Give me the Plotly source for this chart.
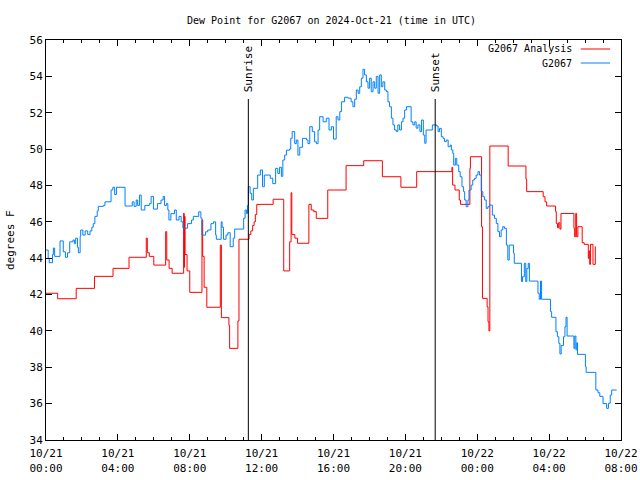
import plotly.graph_objects as go

# ---- data (hours since 2024-10-21 00:00 UTC, degrees F) ----
analysis_hours = [0.0, 0.65, 1.68, 2.70, 3.73, 4.62, 5.58, 5.64, 5.75, 6.0, 6.66, 6.72, 6.85, 7.02,
                  7.66, 7.69, 7.71, 7.74, 7.85, 8.0, 8.68, 8.72, 8.80, 8.95, 9.70, 9.76, 10.18, 10.22,
                  10.68, 10.74, 11.30, 11.40, 11.50, 11.58, 11.65, 11.73, 12.64, 13.23, 13.56, 13.64,
                  13.68, 13.85, 14.0, 14.63, 14.76, 14.90, 15.04, 15.68, 16.70, 17.68, 18.72, 19.75,
                  20.63, 22.59, 22.63, 22.76, 23.0, 23.07, 23.59, 23.62, 24.24, 24.29, 24.55, 24.60,
                  24.65, 24.70, 25.72, 26.71, 26.75, 27.67, 27.77, 27.86, 28.36, 28.40, 28.47, 28.53,
                  28.60, 28.66, 29.38, 29.42, 29.48, 29.53, 29.60, 29.84, 29.95, 30.18, 30.22, 30.26,
                  30.30, 30.44, 30.57, 30.60]
analysis_values = [42.07, 41.77, 42.34, 43.0, 43.44, 44.05, 45.1, 44.3, 44.1, 43.62, 45.46, 43.9, 43.44, 43.17,
                   46.47, 43.5, 46.3, 44.2, 43.3, 42.12, 46.1, 44.1, 42.4, 41.3, 44.72, 40.73, 40.3, 39.04,
                   40.55, 45.04, 45.3, 45.5, 45.8, 46.0, 46.4, 46.96, 47.24, 43.3, 44.9, 47.6,
                   45.3, 45.1, 44.82, 46.96, 46.65, 46.56, 46.19, 47.75, 49.09, 49.36, 48.48, 47.9,
                   48.76, 49.0, 48.02, 47.75, 47.2, 46.96, 48.94, 49.58, 45.73, 41.79, 41.33, 40.5,
                   40.0, 50.17, 49.07, 48.35, 47.66, 47.38, 47.1, 46.87, 46.56, 45.91, 45.67, 45.95,
                   45.6, 46.46, 45.64, 45.18, 46.46, 45.18, 45.73, 44.85, 44.76, 43.99, 44.4, 43.66,
                   44.76, 43.66, 44.63, 44.63]

obs_hours = [0.0, 0.12, 0.18, 0.36, 0.41, 0.48, 0.78, 0.96, 1.08, 1.20, 1.32, 1.50, 1.58, 1.65, 1.75,
             1.80, 1.90, 1.93, 2.05, 2.18, 2.32, 2.45, 2.55, 2.63, 2.72, 2.85, 2.91, 3.19, 3.28, 3.62,
             3.72, 3.82, 3.92, 4.40, 4.80, 4.90, 5.02, 5.10, 5.20, 5.30, 5.50, 5.75, 5.85, 5.98, 6.20,
             6.40, 6.52, 6.60, 6.70, 6.78, 6.84, 6.95, 7.15, 7.25, 7.40, 7.52, 7.62, 7.88, 8.10, 8.20,
             8.50, 8.62, 8.68, 8.88, 9.00, 9.18, 9.32, 9.44, 9.48, 9.75, 9.80, 9.88, 10.02, 10.12,
             10.25, 10.42, 10.50, 11.0, 11.08, 11.15, 11.21, 11.26, 11.36, 11.45, 11.54, 11.78, 11.93,
             12.05, 12.15, 12.48, 12.62, 12.78, 12.90, 13.00, 13.10, 13.18, 13.28, 13.38, 13.55, 13.62,
             13.70, 13.84, 13.93, 14.02, 14.12, 14.27, 14.50, 14.58, 14.68, 14.82, 14.95, 15.05, 15.14,
             15.23, 15.42, 15.60, 15.75, 15.88, 16.0, 16.15, 16.25, 16.35, 16.44, 16.62, 16.80, 16.98,
             17.08, 17.18, 17.27, 17.37, 17.46, 17.55, 17.64, 17.73, 17.83, 17.92, 18.01, 18.10, 18.20,
             18.29, 18.38, 18.48, 18.57, 18.66, 18.75, 18.85, 18.94, 19.03, 19.12, 19.22, 19.31, 19.40,
             19.50, 19.58, 19.68, 19.78, 19.87, 19.96, 20.06, 20.32, 20.42, 20.52, 20.60, 20.70, 20.81,
             20.90, 21.0, 21.08, 21.15, 21.50, 21.74, 21.82, 21.90, 22.0, 22.10, 22.18, 22.28, 22.38,
             22.50, 22.56, 22.64, 22.69, 22.78, 22.86, 22.97, 23.05, 23.15, 23.24, 23.30, 23.38, 23.48,
             23.54, 23.66, 23.75, 23.85, 23.94, 24.04, 24.13, 24.22, 24.31, 24.41, 24.50, 24.59, 24.68,
             24.84, 24.96, 25.06, 25.15, 25.24, 25.33, 25.42, 25.52, 25.62, 25.70, 25.78, 26.02, 26.06,
             26.46, 26.52, 26.62, 26.70, 26.76, 26.84, 26.90, 27.38, 27.45, 27.52, 27.58, 28.08, 28.14,
             28.38, 28.46, 28.54, 28.60, 28.67, 28.80, 28.88, 28.94, 29.0, 29.38, 29.43, 29.49, 29.54,
             29.58, 30.02, 30.06, 30.60, 30.72, 30.82, 31.0, 31.2, 31.30, 31.40, 31.48, 31.76]
obs_values = [44.45, 44.0, 43.75, 44.2, 44.56, 44.1, 44.95, 44.35, 44.05, 44.3, 44.9, 45.0, 44.8, 45.1, 44.6,
              44.3, 45.2, 45.55, 45.27, 45.5, 45.3, 45.5, 45.7, 45.9, 46.3, 46.6, 46.85, 46.9, 47.1, 47.75,
              47.9, 47.5, 47.9, 46.87, 47.1, 46.85, 47.2, 46.9, 47.47, 46.65, 46.9, 47.0, 47.4, 46.7, 47.0,
              47.2, 47.4, 46.9, 47.0, 46.65, 46.1, 46.45, 46.65, 46.1, 46.3, 46.0, 45.65, 45.9, 46.1, 46.3,
              46.55, 46.2, 45.27, 45.45, 45.55, 45.9, 46.0, 45.27, 45.04, 46.0, 45.7, 45.04, 45.27, 45.4,
              44.63, 45.1, 45.6, 46.2, 46.65, 46.45, 46.9, 47.93, 47.57, 47.2, 47.84, 48.57, 48.85,
              47.93, 48.57, 48.4, 48.1, 48.94, 48.66, 49.0, 48.5, 49.4, 49.67, 49.94, 50.0, 50.59,
              50.96, 50.3, 50.5, 49.67, 50.1, 50.59, 50.5, 50.3, 51.23, 50.96, 50.4, 50.3, 51.05,
              51.78, 51.5, 51.7, 51.05, 51.23, 50.55, 51.78, 51.6, 52.06, 52.6, 52.85, 52.8, 52.6,
              52.33, 52.74, 53.25, 53.07, 53.43, 53.9, 54.39, 54.08, 53.7, 53.35, 53.9, 53.16, 53.7,
              53.35, 54.0, 53.07, 54.08, 53.43, 53.7, 53.25, 53.16, 52.6, 52.33, 51.7, 51.33, 51.05,
              50.96, 51.33, 51.05, 51.5, 51.7, 52.15, 52.33, 51.5, 51.33, 51.5, 51.15, 51.33, 50.96,
              51.6, 50.77, 50.32, 51.05, 51.33, 51.27, 50.96, 51.14, 50.68, 50.59, 50.41, 50.5, 50.13,
              50.22, 49.95, 49.77, 49.12, 49.49, 49.12, 48.76, 48.48, 47.93, 47.66, 47.2, 46.83, 47.2,
              47.75, 48.02, 48.3, 48.39, 48.57, 48.76, 48.57, 47.66, 47.38, 47.2, 46.74, 46.83, 46.92,
              46.37, 46.19, 45.91, 45.46, 45.18, 45.55, 45.73, 45.64, 44.72, 43.9, 44.72, 44.27, 43.72,
              42.71, 42.98, 43.72, 42.71, 43.44, 43.72, 42.74, 42.07, 41.74, 42.74, 41.74, 41.06, 40.75,
              39.96, 39.68, 39.31, 38.73, 39.2, 39.68, 40.23, 40.75, 39.72, 39.04, 39.72, 38.96, 39.35,
              38.71, 38.03, 37.72, 36.75, 36.6, 36.4, 36.0, 35.74, 36.02, 36.47, 36.75, 36.75]

sunrise_hour = 11.26
sunset_hour = 21.66

tick_hours = [0, 4, 8, 12, 16, 20, 24, 28, 32]
tick_labels = ["10/21<br>00:00", "10/21<br>04:00", "10/21<br>08:00", "10/21<br>12:00",
               "10/21<br>16:00", "10/21<br>20:00", "10/22<br>00:00", "10/22<br>04:00",
               "10/22<br>08:00"]

RED = "#ff0000"
BLUE = "#0080ff"
FONT = "DejaVu Sans Mono"

fig = go.Figure()
fig.add_trace(go.Scatter(x=analysis_hours, y=analysis_values, mode="lines",
                         line=dict(color=RED, width=1, shape="hv"),
                         name="G2067 Analysis", showlegend=False))
fig.add_trace(go.Scatter(x=obs_hours, y=obs_values, mode="lines",
                         line=dict(color=BLUE, width=1, shape="hv"),
                         name="G2067", showlegend=False))

# sunrise / sunset markers
for h, label in [(sunrise_hour, "Sunrise"), (sunset_hour, "Sunset")]:
    fig.add_shape(type="line", xref="x", yref="paper", x0=h, x1=h, y0=0, y1=0.8525,
                  line=dict(color="black", width=1))
    fig.add_annotation(x=h, xref="x", y=0.865, yref="paper", text=label, textangle=-90,
                       showarrow=False, xanchor="center", yanchor="bottom",
                       font=dict(family=FONT, size=11, color="black"))

# gnuplot-style legend (text on the left, sample line on the right)
for yp, label, col in [(0.9775, "G2067 Analysis", RED), (0.9425, "G2067", BLUE)]:
    fig.add_annotation(x=0.918, xref="paper", y=yp, yref="paper", text=label,
                       showarrow=False, xanchor="right", yanchor="middle",
                       font=dict(family=FONT, size=10, color="black"))
    fig.add_shape(type="line", xref="paper", yref="paper", x0=0.930, x1=0.981, y0=yp, y1=yp,
                  line=dict(color=col, width=1))

fig.add_annotation(x=-0.0626, xref="paper", y=0.5, yref="paper", text="degrees F",
                   textangle=-90, showarrow=False, xanchor="center", yanchor="middle",
                   font=dict(family=FONT, size=11, color="black"))

fig.update_layout(
    width=640, height=480,
    margin=dict(l=46, r=19, t=40, b=40, autoexpand=False),
    paper_bgcolor="white", plot_bgcolor="white",
    title=dict(text="Dew Point for G2067 on 2024-Oct-21 (time in UTC)", x=0.518, xanchor="center",
               y=0.958, yanchor="middle", font=dict(family=FONT, size=10, color="black")),
    font=dict(family=FONT, size=11, color="black"),
)
fig.update_xaxes(range=[0, 32], tickmode="array", tickvals=tick_hours, ticktext=tick_labels,
                 automargin=False, ticklabelstandoff=3,
                 showgrid=False, zeroline=False, showline=True, linecolor="black", linewidth=1,
                 mirror="allticks", ticks="inside", ticklen=6, tickcolor="black",
                 minor=dict(dtick=1, tick0=0, ticks="inside", ticklen=3, tickcolor="black", showgrid=False),
                 tickfont=dict(family=FONT, size=11))
fig.update_yaxes(range=[34, 56], dtick=2, tick0=34, automargin=False, showgrid=False, zeroline=False,
                 showline=True, linecolor="black", linewidth=1, mirror="allticks", ticks="inside",
                 ticklen=6, tickcolor="black", tickfont=dict(family=FONT, size=11))

fig.write_html("out.html", config={"displayModeBar": False},
               post_script="document.body.style.margin='0';document.body.style.overflow='hidden';")
